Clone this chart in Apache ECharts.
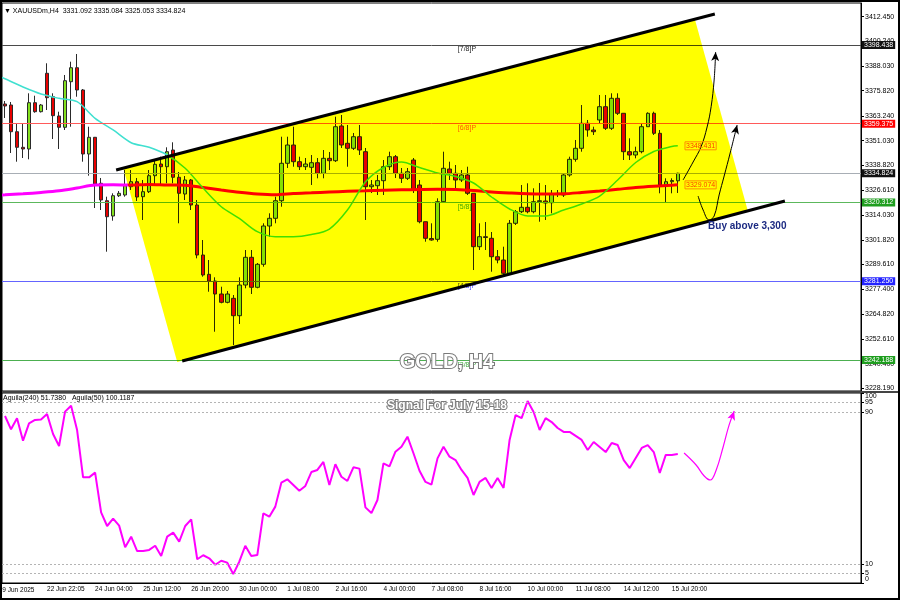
<!DOCTYPE html>
<html><head><meta charset="utf-8">
<script src="https://cdn.jsdelivr.net/npm/echarts@6/dist/echarts.min.js"></script>
<style>html,body{margin:0;padding:0;background:#fff}#c{width:900px;height:600px;background:#fff}</style>
</head><body><div id="c"></div>
<script>
const FONT = '"Liberation Sans", Arial, sans-serif';

// ---- H4 bars (bar index 1..113) ----
const barOpen = [3369.17,3368.67,3355.43,3347.70,3346.86,3369.81,3365.35,3384.39,3372.78,3363.22,
3357.61,3380.22,3387.16,3376.11,3344.38,3352.66,3329.85,3321.22,3313.64,3323.70,
3324.05,3328.16,3330.64,3323.21,3325.69,3333.62,3339.42,3338.08,3346.36,3332.83,
3324.54,3331.49,3319.09,3294.30,3284.73,3281.41,3274.97,3270.85,3272.83,3264.21,
3279.43,3293.16,3278.29,3289.69,3308.68,3312.50,3321.22,3339.77,3348.84,3340.56,
3338.08,3337.78,3340.06,3334.81,3342.24,3341.05,3358.26,3349.68,3347.20,3352.95,
3345.52,3328.16,3328.66,3331.14,3338.08,3343.04,3334.81,3332.33,3341.40,3329.01,
3310.81,3302.48,3302.09,3320.73,3336.94,3334.81,3331.49,3333.97,3324.89,3298.42,
3303.37,3302.58,3293.46,3291.82,3285.23,3310.02,3315.77,3317.95,3315.77,3320.73,
3321.07,3320.23,3324.54,3324.05,3333.97,3341.75,3347.20,3359.60,3356.28,3361.24,
3367.83,3357.12,3371.99,3364.56,3345.52,3343.88,3345.52,3357.91,3364.56,3354.64,
3329.01,3330.64,3331.092];
const barClose = [3368.18,3355.43,3347.70,3346.86,3369.81,3365.35,3368.67,3372.29,3363.37,3357.61,
3380.72,3387.16,3376.11,3344.38,3352.66,3329.50,3321.57,3313.29,3323.70,3324.89,
3328.66,3330.64,3323.06,3325.69,3333.62,3339.27,3338.08,3345.52,3332.83,3324.89,
3331.49,3319.09,3294.30,3284.39,3281.41,3274.97,3270.85,3274.97,3264.21,3279.43,
3293.16,3278.29,3289.69,3308.68,3312.50,3321.22,3339.77,3348.84,3340.56,3338.08,
3339.42,3340.06,3334.81,3342.24,3341.05,3357.91,3348.84,3347.20,3352.95,3346.36,
3328.16,3329.01,3331.14,3338.08,3343.04,3334.81,3332.33,3335.60,3326.53,3310.81,
3302.58,3301.74,3320.73,3337.29,3334.81,3331.49,3333.97,3324.89,3298.42,3303.37,
3302.98,3293.46,3291.82,3285.23,3310.02,3315.77,3317.95,3315.77,3320.73,3321.22,
3320.08,3324.54,3324.89,3333.97,3341.75,3347.20,3359.60,3356.28,3355.43,3367.83,
3357.12,3371.99,3364.56,3345.52,3343.88,3345.52,3357.91,3364.56,3354.64,3329.01,
3330.64,3331.24,3334.824];
const barHigh = [3370.65,3370.16,3359.75,3359.25,3374.47,3373.28,3369.17,3389.35,3374.47,3365.35,
3383.55,3390.14,3393.96,3376.60,3357.91,3352.81,3332.48,3323.21,3324.89,3326.03,
3336.44,3336.44,3332.48,3331.49,3336.44,3341.40,3343.04,3347.70,3350.18,3335.45,
3333.47,3331.98,3321.57,3301.74,3291.82,3283.24,3278.58,3276.45,3274.47,3283.24,
3296.78,3296.78,3290.34,3310.02,3314.98,3323.21,3352.95,3352.95,3357.91,3343.04,
3342.39,3343.88,3342.39,3346.36,3345.37,3362.87,3363.71,3358.76,3354.79,3358.76,
3347.35,3331.49,3333.97,3341.40,3345.52,3343.88,3337.44,3337.44,3342.39,3331.49,
3310.81,3310.02,3322.41,3345.52,3340.56,3338.92,3336.44,3338.08,3324.89,3310.02,
3310.66,3305.71,3296.78,3298.42,3311.66,3316.61,3329.01,3329.85,3327.37,3330.00,
3329.01,3326.53,3326.53,3334.81,3343.04,3351.32,3368.67,3361.24,3357.91,3373.63,
3373.63,3374.47,3374.47,3364.56,3352.16,3348.00,3359.60,3365.05,3365.35,3356.28,
3332.33,3332.33,3335.084];
const barLow = [3362.23,3344.87,3340.56,3342.39,3341.75,3364.85,3364.95,3366.19,3351.81,3346.86,
3356.28,3357.91,3372.78,3340.56,3333.62,3317.60,3316.61,3295.94,3311.31,3323.06,
3323.21,3326.53,3321.07,3311.66,3325.04,3329.50,3329.50,3329.85,3329.85,3310.02,
3321.57,3316.61,3292.66,3283.54,3276.10,3256.27,3270.35,3270.35,3249.68,3260.09,
3277.79,3274.97,3277.79,3288.50,3303.37,3310.02,3318.25,3337.44,3338.08,3336.44,
3336.44,3329.01,3332.33,3332.33,3336.44,3340.41,3347.35,3338.08,3346.36,3343.88,
3311.66,3325.04,3324.05,3324.05,3336.44,3332.48,3330.00,3331.49,3325.04,3310.02,
3300.90,3301.39,3300.90,3320.08,3331.49,3326.53,3330.49,3324.05,3286.86,3296.78,
3296.78,3286.02,3290.18,3284.39,3284.39,3309.18,3315.12,3314.98,3314.98,3310.81,
3311.66,3314.98,3323.06,3323.06,3333.12,3340.56,3345.52,3352.95,3353.80,3359.60,
3356.28,3356.28,3363.71,3341.40,3341.40,3342.24,3344.72,3357.91,3353.80,3324.89,
3320.23,3324.89,3325.053];

// ---- moving averages: [bar index, price] read at sampled bars ----
const maFast = [[0,3383.0],[1,3381.66],[4,3377.60],[7,3374.14],[10,3371.98],[13,3370.31],[16,3362.07],[19,3356.28],[22,3349.98],[25,3347.70],[28,3343.88],[31,3337.29],[34,3327.37],[37,3318.25],[40,3312.50],[43,3305.86],[46,3303.37],[49,3303.37],[52,3304.46],[55,3307.19],[58,3316.61],[61,3330.49],[64,3337.68],[67,3340.41],[70,3337.68],[73,3334.96],[76,3333.22],[79,3330.00],[82,3323.06],[85,3317.11],[88,3313.64],[91,3313.64],[94,3316.61],[97,3319.59],[100,3323.55],[103,3331.49],[106,3340.16],[109,3345.61],[112,3348.10],[113,3348.431]];
const maSlow = [[0,3324.0],[1,3324.15],[4,3324.64],[7,3325.29],[10,3326.13],[13,3327.52],[16,3329.01],[19,3329.11],[22,3329.01],[25,3329.31],[28,3329.01],[31,3328.91],[34,3327.77],[37,3326.53],[40,3325.39],[43,3324.54],[46,3324.15],[49,3324.74],[52,3325.14],[55,3325.54],[58,3325.88],[61,3326.13],[64,3326.43],[67,3326.63],[70,3326.78],[73,3326.88],[76,3326.73],[79,3326.28],[82,3325.54],[85,3325.04],[88,3324.64],[91,3324.54],[94,3324.64],[97,3325.29],[100,3326.03],[103,3326.88],[106,3327.77],[109,3328.41],[112,3328.91],[113,3329.074]];

// ---- oscillator Aguila (bars 1..113) ----
const oscValues = [87.9,80.9,86.7,74.9,84.0,85.8,86.1,88.9,78.4,72.1,90.2,93.3,80.5,55.6,55.6,58.1,37.2,30.0,33.9,30.2,
18.8,24.4,16.8,16.8,17.4,19.6,14.2,24.4,26.5,21.8,30.0,33.5,12.5,14.6,13.0,9.6,11.7,10.7,4.7,11.2,
19.6,14.2,14.7,36.7,34.9,40.2,52.8,54.6,51.6,48.6,51.1,58.4,59.5,63.7,51.6,62.5,55.9,53.7,60.9,60.2,
39.8,36.8,43.7,63.0,61.4,69.1,71.7,77.0,68.3,59.1,53.2,51.8,65.6,71.7,66.5,64.7,59.5,55.3,46.3,53.2,
55.3,50.0,55.3,50.0,75.3,88.4,86.8,95.8,90.0,80.5,86.8,84.7,81.6,79.5,79.5,77.4,75.3,70.0,74.2,71.6,
68.9,73.7,72.6,64.7,60.5,65.8,71.1,72.6,68.9,57.9,67.4,67.4,67.9];
const oscGuides = [5,10,90,95];
const oscTicks = [0,5,10,90,95,100];

// ---- axis tick labels ----
const priceTicks = [3228.19,3240.40,3252.61,3264.82,3277.40,3289.61,3301.82,3314.03,3326.61,3338.82,3351.03,3363.24,3375.82,3388.03,3400.24,3412.45];
const xTickLabels = ['19 Jun 2025','22 Jun 22:05','24 Jun 04:00','25 Jun 12:00','26 Jun 20:00','30 Jun 00:00','1 Jul 08:00','2 Jul 16:00','4 Jul 00:00','7 Jul 08:00','8 Jul 16:00','10 Jul 00:00','11 Jul 08:00','14 Jul 12:00','15 Jul 20:00'];
const TICK_EVERY = 8;

// ---- Murrey math levels ----
const murreyLevels = [3398.438,3359.375,3320.312,3281.250,3242.188];
const murreyNames = ['[7/8]P','[6/8]P','[5/8]P','[4/8]P','[3/8]P'];
const murreyLineColors = ['#4a4a4a','#ff5a5a','#5cb85c','#6464ff','#4caf50'];
const murreyTextColors = ['#222222','#ff5a5a','#3fa83f','#4b4bff','#3fa83f'];
const murreyTagColors = ['#111111','#ff0000','#1f9e1f','#2323ff','#1f9e1f'];
const bidPrice = 3334.824;

// ---- drawn objects, in [bar index, price] ----
const channelFill = [[20.67,3337.44],[29.67,3241.25],[124.67,3316.12],[115.83,3411.31]];
const upperChannel = [[19.5,3336.45],[119.17,3413.79]];
const lowerChannel = [[30.5,3241.75],[130.83,3321.07]];
const arrowPathA = [[113.88,3331.49],[115.55,3340.41],[116.88,3348.00],[117.88,3357.76],[118.55,3367.83],[119.05,3381.07],[119.3,3394.95]];
const arrowPathB = [[116.38,3323.55],[117.22,3316.61],[118.22,3311.65],[119.05,3313.64],[119.88,3324.05],[120.72,3333.47],[121.72,3344.87],[122.88,3358.76]];
const oscPath = [[114.05,68.4],[116.05,62.1],[117.4,56.3],[118.4,54.2],[119.4,59.5],[120.55,71.6],[121.55,83.2],[122.4,90.5]];

const N_SLOTS = 143;
const categories = Array.from({length:N_SLOTS}, (_, i) => String(i + 1));
const candleData = barOpen.map((o, i) => [o, barClose[i], barLow[i], barHigh[i]]);
const tickShown = (idx) => (idx + 1) % TICK_EVERY === 0 && (idx + 1) / TICK_EVERY < xTickLabels.length;

function withArrow(path, rot) {
  return path.map((p, i) => i === path.length - 1
    ? {value: p, symbol: 'arrow', symbolSize: [6, 9], symbolRotate: rot}
    : {value: p, symbol: 'none'});
}

function textSeries(items, z, zlevel, xi, yi) {
  return {
    type: 'custom', xAxisIndex: xi, yAxisIndex: yi, z: z, zlevel: zlevel, silent: true, clip: false,
    data: items.map(it => it.at),
    renderItem: (params, api) => {
      const it = items[params.dataIndex];
      const p = api.coord(it.at);
      return {type: 'text', x: p[0] + (it.dx || 0), y: p[1] + (it.dy || 0),
        style: Object.assign({text: it.text, font: '7px ' + FONT, fill: '#000', align: 'center', verticalAlign: 'middle'}, it.style)};
    }
  };
}

const murreyText = murreyLevels.map((v, i) => ({at: [77.9, v], dy: 1, text: murreyNames[i],
  style: {fill: murreyTextColors[i], verticalAlign: 'top'}}));
const lastFast = maFast[maFast.length - 1];
const lastSlow = maSlow[maSlow.length - 1];
const maTags = [lastFast, lastSlow].map(p => ({at: [114.2, p[1]], text: p[1].toFixed(3),
  style: {fill: '#ff3a00', align: 'left', borderColor: '#ff8c00', borderWidth: 1, padding: [1, 1, 0, 1]}}));
const buyText = [{at: [118.05, 3308.7], text: 'Buy above 3,300',
  style: {fill: '#1c2a82', align: 'left', font: 'bold 10px ' + FONT}}];
const oscLabelItems = oscTicks.map(v => ({at: [N_SLOTS + 0.5, v], dx: 4, text: String(v),
  style: {align: 'left', verticalAlign: v === 100 ? 'top' : (v === 0 ? 'bottom' : 'middle')}}));

const levelMarks = murreyLevels.map((v, i) => ({
  yAxis: v, lineStyle: {color: murreyLineColors[i], width: 1, type: 'solid'},
  label: {show: true, position: 'end', distance: 1, formatter: v.toFixed(3), color: '#fff',
    backgroundColor: murreyTagColors[i], padding: [1, 2, 0, 2], fontSize: 7, fontFamily: FONT}
}));
levelMarks.push({yAxis: bidPrice, lineStyle: {color: '#a8aeb5', width: 1, type: 'solid'},
  label: {show: true, position: 'end', distance: 1, formatter: bidPrice.toFixed(3), color: '#fff',
    backgroundColor: '#111', padding: [1, 2, 0, 2], fontSize: 7, fontFamily: FONT}});

const TOP = 2; // zlevel for drawings above the multiplied fill
const chart = echarts.init(document.getElementById('c'), null, {renderer: 'canvas'});
chart.setOption({
  animation: false,
  textStyle: {fontFamily: FONT},
  grid: [
    {left: 2, top: 3, width: 859, height: 388, show: true, borderColor: '#000', borderWidth: 1, backgroundColor: 'transparent'},
    {left: 2, top: 393, width: 859, height: 190, show: true, borderColor: '#000', borderWidth: 1, backgroundColor: 'transparent'}
  ],
  xAxis: [
    {type: 'category', gridIndex: 0, data: categories, show: false},
    {type: 'value', gridIndex: 0, min: 0.5, max: N_SLOTS + 0.5, show: false},
    {type: 'category', gridIndex: 1, data: categories,
      axisLine: {lineStyle: {color: '#000'}},
      axisTick: {alignWithLabel: true, interval: tickShown, length: 4, lineStyle: {color: '#000'}},
      axisLabel: {interval: tickShown, formatter: (v) => xTickLabels[Number(v) / TICK_EVERY] || '',
        align: 'left', fontSize: 6.5, color: '#000', margin: 3, fontFamily: FONT},
      splitLine: {show: false}},
    {type: 'value', gridIndex: 1, min: 0.5, max: N_SLOTS + 0.5, show: false}
  ],
  yAxis: [
    {type: 'value', gridIndex: 0, position: 'right', min: 3226.88, max: 3419.24, scale: true,
      splitLine: {show: false}, axisLine: {show: true, lineStyle: {color: '#000'}},
      axisTick: {show: true, length: 3, customValues: priceTicks, lineStyle: {color: '#000'}},
      axisLabel: {customValues: priceTicks, formatter: (v) => v.toFixed(3), fontSize: 7, color: '#000', margin: 4, fontFamily: FONT}},
    {type: 'value', gridIndex: 1, position: 'right', min: 0, max: 100,
      splitLine: {show: false}, axisLine: {show: true, lineStyle: {color: '#000'}},
      axisTick: {show: true, length: 3, customValues: oscTicks, lineStyle: {color: '#000'}},
      axisLabel: {show: false}}
  ],
  series: [
    {type: 'line', xAxisIndex: 1, yAxisIndex: 0, z: 1, data: [[1, bidPrice]], symbol: 'none', silent: true,
      lineStyle: {opacity: 0},
      markLine: {silent: true, symbol: 'none', animation: false, data: levelMarks}},
    textSeries(murreyText, 1, 0, 1, 0),
    {type: 'candlestick', xAxisIndex: 0, yAxisIndex: 0, z: 2, data: candleData, barWidth: 4,
      itemStyle: {color: '#84e01e', color0: '#e80000', borderColor: '#2a2a2a', borderColor0: '#2a2a2a', borderWidth: 1}},
    {type: 'line', xAxisIndex: 1, yAxisIndex: 0, z: 3, data: maSlow, smooth: 0.3, symbol: 'none',
      lineStyle: {color: '#ff00ff', width: 3}},
    {type: 'line', xAxisIndex: 1, yAxisIndex: 0, z: 3, data: maFast, smooth: 0.3, symbol: 'none',
      lineStyle: {color: '#40e0d0', width: 1.5}},
    {type: 'custom', xAxisIndex: 1, yAxisIndex: 0, z: 4, zlevel: 1, silent: true, data: [[60, 3330]],
      renderItem: (params, api) => ({type: 'polygon', shape: {points: channelFill.map(p => api.coord(p))},
        style: {fill: '#ffff00'}})},
    {type: 'line', xAxisIndex: 1, yAxisIndex: 0, z: 6, zlevel: TOP, data: upperChannel, symbol: 'none', lineStyle: {color: '#000', width: 3}},
    {type: 'line', xAxisIndex: 1, yAxisIndex: 0, z: 6, zlevel: TOP, data: lowerChannel, symbol: 'none', lineStyle: {color: '#000', width: 3}},
    {type: 'line', xAxisIndex: 1, yAxisIndex: 0, z: 6, zlevel: TOP, data: withArrow(arrowPathA, -3), smooth: 0.4, symbol: 'none', showSymbol: true,
      lineStyle: {color: '#000', width: 1}, itemStyle: {color: '#000'}},
    {type: 'line', xAxisIndex: 1, yAxisIndex: 0, z: 6, zlevel: TOP, data: withArrow(arrowPathB, -14), smooth: 0.4, symbol: 'none', showSymbol: true,
      lineStyle: {color: '#000', width: 1}, itemStyle: {color: '#000'}},
    textSeries(maTags, 7, TOP, 1, 0),
    textSeries(buyText, 7, TOP, 1, 0),
    {type: 'line', xAxisIndex: 2, yAxisIndex: 1, z: 3, data: oscValues, symbol: 'none',
      lineStyle: {color: '#ff00ff', width: 2},
      markLine: {silent: true, symbol: 'none', label: {show: false},
        lineStyle: {color: '#b4b4b4', width: 1, type: [2, 2]}, data: oscGuides.map(v => ({yAxis: v}))}},
    {type: 'line', xAxisIndex: 3, yAxisIndex: 1, z: 3, data: withArrow(oscPath, -20), smooth: 0.4, symbol: 'none', showSymbol: true,
      lineStyle: {color: '#ff00ff', width: 1.2}, itemStyle: {color: '#ff00ff'}},
    textSeries(oscLabelItems, 5, 0, 3, 1)
  ],
  graphic: [
    {type: 'rect', zlevel: TOP, shape: {x: 0, y: 0, width: 900, height: 2}, style: {fill: '#9a9a9a'}, z: 100},
    {type: 'rect', zlevel: TOP, shape: {x: 2, y: 391, width: 896, height: 2}, style: {fill: '#444'}, z: 100},
    {type: 'rect', zlevel: TOP, shape: {x: 1, y: 1, width: 898, height: 598}, style: {fill: 'none', stroke: '#000', lineWidth: 2}, z: 100},
    {type: 'text', zlevel: TOP, x: 4, y: 11, style: {text: '▼ XAUUSDm,H4  3331.092 3335.084 3325.053 3334.824', font: '7px ' + FONT, fill: '#000', verticalAlign: 'middle'}, z: 100},
    {type: 'text', zlevel: TOP, x: 3, y: 398, style: {text: 'Aguila(240) 51.7380   Aguila(50) 100.1187', font: '7px ' + FONT, fill: '#000', verticalAlign: 'middle'}, z: 100},
    {type: 'text', zlevel: TOP, x: -1.3, y: 587, style: {text: xTickLabels[0], font: '6.5px ' + FONT, fill: '#000', verticalAlign: 'top'}, z: 100},
    {type: 'text', zlevel: TOP, x: 447, y: 362, style: {text: 'GOLD, H4', font: 'bold 20px ' + FONT, fill: '#ffffff', align: 'center', verticalAlign: 'middle',
      stroke: '#7a7a7a', lineWidth: 2, shadowColor: 'rgba(0,0,0,0.45)', shadowBlur: 2, shadowOffsetX: 1, shadowOffsetY: 1}, z: 100},
    {type: 'text', zlevel: TOP, x: 447, y: 406, style: {text: 'Signal For July 15-18', font: 'bold 12px ' + FONT, fill: '#ffffff', align: 'center', verticalAlign: 'middle',
      stroke: '#7a7a7a', lineWidth: 2, shadowColor: 'rgba(0,0,0,0.45)', shadowBlur: 2, shadowOffsetX: 1, shadowOffsetY: 1}, z: 100}
  ]
});

function applyBlend() {
  document.querySelectorAll('#c canvas').forEach(cv => {
    if (cv.getAttribute('data-zr-dom-id') === 'zr_1') cv.style.mixBlendMode = 'multiply';
  });
}
applyBlend();
chart.on('finished', applyBlend);
setTimeout(applyBlend, 0);
</script>
</body></html>
